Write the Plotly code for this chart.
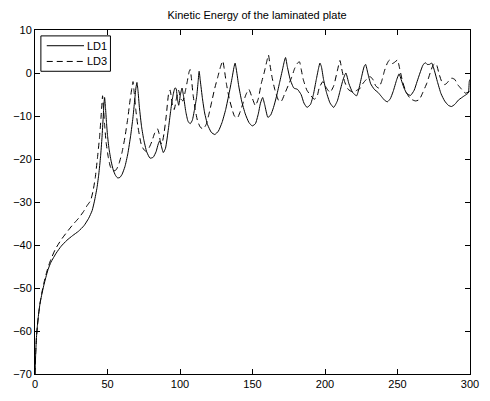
import plotly.graph_objects as go

# LD1 (solid)
ld1_x = [0, 0.5, 1, 1.6, 2.5, 3.5, 4.5, 6, 7.5, 9, 11, 14.6, 18, 22, 26, 30, 33.8, 37, 39.4, 41, 42.8, 44, 45.2, 46.2, 47, 47.6, 48,
         48.6, 49.3, 50, 51, 52.5, 54, 55.5, 57, 58.5, 60, 62, 64, 66, 67.5, 68.7, 69.6, 70.3, 71, 72, 73.5, 75, 77, 79.3,
         81.5, 83.5, 85, 86, 87, 88.5, 90, 92, 93.5, 95, 96.5, 97.3, 98.2, 99.1, 100.3, 101.4, 102.5, 104, 105.5, 107,
         108.5, 110, 111.5, 112.5, 113.2, 114, 115.5, 117, 119, 121.6, 124, 126.5, 129, 131.5, 134, 136, 137.2, 138, 139,
         140.5, 142.5, 145, 147.5, 149.8, 152, 154, 155.5, 157, 158.5, 160.6, 162.5, 164.5, 166.5, 168.5, 170.5, 172, 172.8,
         174, 176, 178.5, 181, 183.5, 185.5, 187.6, 190, 192, 194, 195.5, 196.5, 197.5, 199, 201, 203.5, 206, 208.5, 210.5,
         212.5, 214.4, 216.5, 219, 221.8, 223.5, 225.5, 227, 228, 229.5, 231.5, 234, 236.5, 239, 241, 243, 245, 247, 249.5,
         251.1, 252.5, 254.5, 256.5, 259, 261.5, 263.5, 265.5, 267.5, 269.1, 270.5, 272, 273.6, 275.5, 277.5, 280, 282.5,
         285, 287.2, 289.5, 292, 294, 296.1, 297.5, 298.9, 299.5, 300]
ld1_y = [-70, -65, -61.5, -59, -56, -53.5, -51.8, -49.5, -47.5, -45.7, -44, -41.9, -40.3, -38.9, -37.8, -36.8, -35.5, -33.8,
         -32, -29.8, -26.6, -23.5, -19.5, -15, -10.5, -7, -5.7,
         -8, -11.5, -14.5, -17.5, -20.5, -22.6, -23.8, -24.4, -24.3, -23.6, -21.8, -18.8, -14.5, -10.5, -6.5, -3.5, -2.2,
         -4, -8, -12.5, -15.5, -18.3, -19.8,
         -19.6, -18.3, -16.5, -15.8, -16.8, -18.5, -17.5, -13, -9, -5.5, -3.5, -3.6, -6, -7.5, -5, -3.5, -5.5, -9, -11.2,
         -11.8, -11, -8.5, -5.5, -2, 0.4, -1.8, -6, -9.3, -12, -13.8, -14.3, -13.5, -11.5, -8.5, -4.5, -1, 1.3, 2.3, 0.5,
         -3, -6.5, -9.5, -11.5, -12.3, -11.8, -9.5, -7, -5.7, -7.5, -10.3, -9.8, -8, -5.5, -2.5, 0.5, 2.8, 3.6,
         1.5, -1.5, -3.5, -3.8, -5, -7, -8, -7.3, -5, -1.5, 1, 2.3, 1.5, -1.5, -4.5, -7, -8, -6.5, -4,
         -1.5, 0, -2.5, -4.5, -5.3, -3.5, -0.5, 1.5, 2, 0, -2.5, -3.8, -4.5, -5.5, -6.3, -6.7, -6, -4.3, -1.5,
         -0.2, -1.5, -3.5, -4.8, -5.2, -4, -2, 0, 1.8, 2.4, 2, 2, 2.3, 0.5, -2, -4.8, -6.5,
         -7.5, -7.8, -7.3, -6.3, -5.8, -5.3, -5, -4.6, -2, -1.5]

# LD3 (dashed)
ld3_x = [0, 0.5, 1, 1.6, 2.5, 3.5, 4.5, 6, 7.5, 9, 11, 14, 18, 22, 26, 30, 33.5, 36, 38.3, 40, 41.5, 43, 44.5, 45.5, 46.2,
         46.6, 47.2, 48, 49, 50.5, 52, 54, 56, 58, 60, 62, 64, 65.5, 66.8, 67.6, 68.4, 69.5, 71, 73.2, 75, 76.6, 78.5,
         80.5, 82.5, 84.5, 85.5, 86.5, 87.5, 89, 90.5, 92.3, 93.2, 94.5, 96, 97.5, 99, 100.5, 102, 103.5, 105, 106.3, 107,
         107.8, 109, 110.5, 112, 114, 116, 118, 120, 122, 124, 126, 128, 129.5, 130.5, 132, 134, 136, 137.5, 139.5, 141.5,
         143.5, 145.5, 147.5, 149.5, 152, 154, 156, 158, 159.7, 161, 162, 163.5, 165.5, 168.2, 170, 172, 174.5, 177, 179,
         181, 182.4, 183.5, 185, 187.5, 190.3, 192.6, 194.5, 196, 198.5, 201, 203.5, 206, 208.5, 210.3, 211.5, 213.5, 216,
         219.6, 222, 224.5, 226, 228.5, 231, 233, 235, 237, 239, 241, 243, 244.4, 246.5, 248, 250, 251.5, 253.5, 256, 259,
         262.4, 265, 267.5, 270.3, 272.5, 274.5, 276, 277, 278.5, 280.4, 282.6, 284.5, 286, 287.5, 289.5, 291.5, 293.5,
         295.5, 297, 300]
ld3_y = [-70, -65, -61.5, -59, -56, -53.5, -51.5, -49, -47, -45.2, -43.3, -41, -38.8, -37, -35.3, -33.8, -32.2, -30.8,
         -29.7, -27.5, -24.5, -20, -15, -10.5, -7,
         -5.3, -8, -12, -16, -19.5, -21.8, -22.8, -22.5, -21, -18.5, -15, -10.5, -6.5, -3.5, -2, -4.5, -8.5, -12.5, -16.5,
         -17.8, -18.2, -17.5,
         -16, -14, -13, -14, -16, -16.5, -14, -10, -4.5, -4, -7, -8.5, -6, -4, -6, -6.5, -4.5, -2, 0.3, 0.8,
         -1, -5, -8.5, -11, -12.6, -13, -12, -9.5, -6.5, -3.5, -1, 1.5, 2.8, 1, -2.5, -6, -8.5, -10, -10.5, -9,
         -7, -5, -3.8, -5.5, -7.6, -6, -2.5, 0, 2.5, 4.2, 2, -1, -4, -6.5, -6.5, -5, -3, -1, 1,
         2.3, 2.6, 1, -1.5, -4, -5.3, -6.1, -5.5, -3.5, -2, -3.5, -4.5, -3, 0.5, 2.9, 1, -2, -3.8,
         -4.5, -4, -3.5, -2.5, -1.5, -0.8, -1.5, -3, -3.5, -2, 0.5, 2.3, 3, 2.2, 2.5, 3, 1, -2, -4.5, -6,
         -6.5, -6.2, -4.5, -2.3, 0, 1.8, 2.2, 1.9, 0, -1.9, -2.7, -2.2, -1.5, -1.2, -1.5, -2.7, -3.5,
         -4.3, -4.7, -4.2]

series_names = ["LD1", "LD3"]
x_ticks = [0, 50, 100, 150, 200, 250, 300]
y_ticks = [10, 0, -10, -20, -30, -40, -50, -60, -70]
title_text = "Kinetic Energy of the laminated plate"

FONT = "Liberation Sans, Arial, Helvetica, sans-serif"
DASH = "6px,4px"

W, H = 490, 401
ML, MR, MT, MB = 35, 11, 30, 21
PW, PH = W - ML - MR, H - MT - MB


def px_to_paper(px, py):
    """convert a pixel position of the page to plot-area paper coordinates"""
    return (px - ML) / PW, 1 - (py - MT) / PH


fig = go.Figure()
fig.add_trace(go.Scatter(x=ld1_x, y=ld1_y, mode="lines", name=series_names[0], showlegend=False,
                         line=dict(color="black", width=1, shape="spline", smoothing=0.5)))
fig.add_trace(go.Scatter(x=ld3_x, y=ld3_y, mode="lines", name=series_names[1], showlegend=False,
                         line=dict(color="black", width=1, dash=DASH, shape="spline", smoothing=0.5)))

axis_common = dict(showgrid=False, zeroline=False, showline=True, linecolor="black", linewidth=1,
                   mirror="ticks", ticks="inside", ticklen=5, tickcolor="black", tickwidth=1,
                   tickfont=dict(family=FONT, size=11, color="black"))

# compact MATLAB-style legend box
bx0, by0 = px_to_paper(41, 36)
bx1, by1 = px_to_paper(112, 72)
lx0, _ = px_to_paper(47, 0)
lx1, _ = px_to_paper(85, 0)
tx, _ = px_to_paper(87, 0)
_, ly1 = px_to_paper(0, 46)
_, ly3 = px_to_paper(0, 62)

shapes = [
    dict(type="rect", xref="paper", yref="paper", x0=bx0, x1=bx1, y0=by1, y1=by0,
         line=dict(color="black", width=1), fillcolor="white", layer="above"),
    dict(type="line", xref="paper", yref="paper", x0=lx0, x1=lx1, y0=ly1, y1=ly1,
         line=dict(color="black", width=1), layer="above"),
    dict(type="line", xref="paper", yref="paper", x0=lx0, x1=lx1, y0=ly3, y1=ly3,
         line=dict(color="black", width=1, dash=DASH), layer="above"),
]
annotations = [
    dict(text=series_names[0], xref="paper", yref="paper", x=tx, y=ly1, xanchor="left", yanchor="middle",
         showarrow=False, borderpad=0, font=dict(family=FONT, size=11, color="black")),
    dict(text=series_names[1], xref="paper", yref="paper", x=tx, y=ly3, xanchor="left", yanchor="middle",
         showarrow=False, borderpad=0, font=dict(family=FONT, size=11, color="black")),
]

fig.update_layout(
    width=W, height=H,
    margin=dict(l=ML, r=MR, t=MT, b=MB),
    paper_bgcolor="white", plot_bgcolor="white",
    title=dict(text=title_text, x=(ML + PW / 2) / W, xanchor="center", y=1 - 15 / H, yanchor="middle",
               yref="container", font=dict(family=FONT, size=11, color="black")),
    xaxis=dict(range=[0, 300], tickvals=x_ticks, **axis_common),
    yaxis=dict(range=[-70, 10], tickvals=y_ticks, **axis_common),
    showlegend=False,
    shapes=shapes,
    annotations=annotations,
)

fig.write_html("out.html")
